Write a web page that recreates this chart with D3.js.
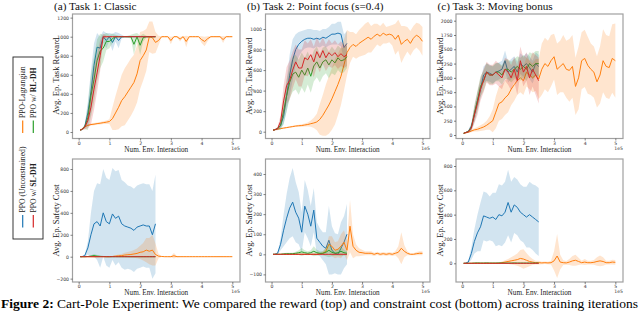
<!DOCTYPE html>
<html><head><meta charset="utf-8">
<script src="https://cdn.jsdelivr.net/npm/d3@7/dist/d3.min.js"></script>
<style>
html,body{margin:0;padding:0;background:#fff}svg{display:block}
.serif{font-family:"Liberation Serif","Times New Roman",Times,serif}
.sans{font-family:"DejaVu Sans",sans-serif}
</style>
</head><body>
<svg id="chart" width="640" height="316"></svg>
<script>
// ---------------- DATA ----------------
const xShort = [0.05,0.1,0.2,0.3,0.4,0.5,0.6,0.7,0.8,0.9,1.0,1.1,1.2,1.3,1.4,1.5,1.6,1.7,1.8,1.9,2.0,2.1,2.2,2.3,2.4,2.5];
const xLong = [0.05,0.1,0.2,0.3,0.4,0.5,0.6,0.7,0.8,0.9,1.0,1.1,1.2,1.3,1.4,1.5,1.6,1.7,1.8,1.9,2.0,2.1,2.2,2.3,2.4,2.5,
  2.6,2.7,2.8,2.9,3.0,3.1,3.2,3.3,3.4,3.5,3.6,3.7,3.8,3.9,4.0,4.1,4.2,4.3,4.4,4.5,4.6,4.7,4.8,4.9,5.0];
const xTicks = [0,1,2,3,4,5];
const seriesNames = ["PPO (Unconstrained)","PPO-Lagrangian","PPO w/ RL-DH","PPO w/ SL-DH"];
const titles = ["(a) Task 1: Classic","(b) Task 2: Point focus (s=0.4)","(c) Task 3: Moving bonus"];
const rewardTicks = [[0,200,400,600,800,1000,1200],[0,200,400,600,800,1000],[0,250,500,750,1000,1250,1500,1750,2000]];
const costTicks = [[-200,0,200,400,600,800],[-100,0,100,200,300,400],[0,200,400,600,800]];

// Task 1 reward
const blueRewA   = [20,25,60,200,420,700,890,880,1000,960,1000,940,1000,960,1000,1000,1000,1000,1000,1000,1000,1000,1000,1000,1000,1000];
const blueRewASd = [5,5,20,120,220,230,150,120,60,80,40,90,50,80,20,3,3,3,3,3,3,3,3,3,3,3];
const redRewA    = [20,25,50,120,260,450,620,800,1000,1000,1000,1000,1000,1000,1000,1000,1000,1000,1000,1000,1000,1000,1000,1000,1000,1000];
const redRewASd  = [5,5,20,80,180,220,200,160,30,10,5,5,5,5,5,5,5,5,5,5,5,5,5,5,5,5];
const greenRewA  = [20,25,55,150,380,550,750,850,880,950,950,980,1000,1000,1000,1000,1000,1000,920,1000,910,990,1000,1000,1000,1000];
const greenRewASd= [5,5,25,130,220,240,220,180,140,90,70,50,20,10,5,5,10,20,110,40,100,40,10,5,5,5];
const orangeRewA = [20,30,55,70,78,82,88,92,98,103,110,140,200,260,330,370,420,470,520,610,750,800,860,1000,990,940,960,1000,1000,1000,960,1000,1000,975,1000,950,1000,1000,1000,1000,970,950,980,1000,1000,1000,1000,970,1000,1000,1000];
const orangeRewASd=[5,5,8,10,10,12,12,14,15,18,25,120,180,230,270,300,300,300,290,300,300,260,220,160,170,110,50,5,5,5,40,5,5,25,5,60,5,5,5,5,35,50,25,5,5,5,5,35,5,5,5];

// Task 2 reward
const blueRewB   = [15,18,30,60,150,350,550,700,800,850,880,900,910,910,900,910,900,920,910,930,950,950,960,950,820,860];
const blueRewBSd = [5,5,10,30,80,150,200,200,150,120,100,90,90,90,90,80,80,80,90,90,100,100,110,120,130,120];
const redRewB    = [15,18,30,100,300,450,500,600,680,620,620,720,700,750,680,780,720,790,720,770,740,770,730,760,730,750];
const redRewBSd  = [5,5,15,60,150,180,190,180,170,180,180,170,160,150,150,140,140,130,130,130,120,120,120,120,110,110];
const greenRewB  = [15,18,30,60,200,350,480,560,580,530,600,550,620,540,640,680,620,680,700,650,700,670,720,690,700,730];
const greenRewBSd= [5,5,10,40,120,150,160,170,170,170,170,170,160,160,150,150,140,140,130,130,130,120,120,120,120,110];
const orangeRewB = [15,18,25,30,35,40,45,50,55,58,60,65,70,78,85,95,120,160,210,260,320,390,460,540,650,770,820,850,830,860,880,900,920,900,930,950,930,960,940,950,940,900,940,850,880,900,860,910,940,920,880];
const orangeRewBSd=[5,5,5,5,5,6,6,7,8,10,12,15,20,30,50,80,150,200,250,280,300,320,300,280,250,220,150,120,120,130,140,150,150,130,120,100,100,100,80,80,100,150,150,180,150,120,120,120,120,130,140];

// Task 3 reward
const blueRewC   = [30,40,60,150,350,600,800,1050,1100,1080,1050,1100,1120,1150,1300,1100,1150,1200,1100,1250,1200,1250,1180,1100,1250,1200];
const blueRewCSd = [10,10,20,60,120,150,150,150,150,150,150,150,150,150,180,180,180,180,180,180,180,180,200,200,200,200];
const redRewC    = [30,40,55,120,350,550,800,950,1100,1050,1050,1100,1050,1000,1150,1100,1000,1150,950,1300,1100,1200,1000,1150,1050,950];
const redRewCSd  = [10,10,20,60,150,200,200,200,180,180,180,200,200,200,200,220,220,220,250,250,250,250,300,300,350,400];
const greenRewC  = [30,40,60,130,380,600,850,950,1100,1050,1050,1100,1100,1050,1150,1150,1100,1150,1200,1150,1200,1150,1250,1200,1250,1250];
const greenRewCSd= [10,10,20,60,150,180,180,180,160,160,160,160,160,170,170,170,180,180,180,200,200,200,200,220,220,220];
const orangeRewC = [30,35,50,70,90,100,120,140,170,210,250,400,550,580,650,700,800,880,950,1000,950,1100,1050,1000,1050,980,1150,1250,1200,1300,1370,1150,1200,1250,1150,1130,1200,850,1000,1300,1340,1220,1150,1100,930,1050,1300,1200,1180,1340,1300];
const orangeRewCSd=[5,5,10,20,30,40,50,60,80,120,200,280,300,300,300,300,280,280,250,250,250,250,250,250,280,350,450,450,450,450,400,450,450,500,500,550,550,500,550,500,500,500,450,450,450,500,550,550,550,600,650];

// Task 1 cost
const blueCostA   = [0,0,10,80,200,300,320,280,400,320,300,390,350,370,300,280,270,260,240,270,280,290,280,280,200,300];
const blueCostASd = [0,0,10,60,200,300,350,380,400,400,400,420,430,420,400,400,380,380,380,380,380,380,380,380,400,450];
const redCostA    = [0,0,0,0,0,0,0,0,0,0,0,0,0,0,0,0,0,0,0,0,0,0,0,0,0,0];
const redCostASd  = [1,1,1,1,1,1,1,1,1,1,1,1,1,1,1,1,1,1,1,1,1,1,1,1,1,1];
const greenCostA  = [0,0,0,2,5,10,5,3,2,0,0,0,0,0,0,0,0,0,0,0,0,0,0,0,0,0];
const greenCostASd= [0,0,1,3,8,15,10,5,3,1,1,1,1,1,1,1,1,1,1,1,1,1,1,1,1,1];
const orangeCostA = [0,0,0,0,0,0,0,0,0,0,0,2,5,8,10,15,18,20,25,30,40,45,60,50,60,20,5,2,0,0,0,8,0,0,0,0,0,0,0,0,0,0,0,0,0,0,0,0,0,0,0];
const orangeCostASd=[1,1,1,1,1,1,1,1,1,1,1,5,8,12,15,20,25,30,35,45,60,80,110,120,140,100,20,5,2,2,5,25,5,2,2,2,2,2,2,2,2,2,2,2,2,2,2,2,2,2,2];

// Task 2 cost
const blueCostB   = [0,0,5,50,120,180,230,260,210,180,110,240,200,140,220,80,60,40,30,70,20,5,0,30,60,100];
const blueCostBSd = [0,0,5,30,80,120,150,170,150,130,100,130,120,100,110,80,70,70,80,170,120,100,100,130,130,150];
const redCostB    = [0,0,0,0,0,0,0,0,0,0,0,0,0,0,0,0,0,0,0,0,0,0,0,0,0,0];
const redCostBSd  = [1,1,1,1,1,1,1,1,1,1,1,1,1,1,1,1,1,1,1,1,1,1,1,1,1,1];
const greenCostB  = [0,0,0,0,2,3,3,3,5,8,12,8,5,8,15,8,5,5,10,20,10,5,8,15,8,5];
const greenCostBSd= [0,0,1,2,3,5,5,5,8,12,20,12,10,12,25,15,10,10,20,35,20,12,15,25,15,10];
const orangeCostB = [0,0,0,0,0,0,0,0,0,0,0,0,0,0,0,0,3,5,15,50,40,20,25,40,60,20,140,40,20,10,8,5,5,5,0,5,0,3,0,3,0,5,10,30,15,5,0,0,3,5,5];
const orangeCostBSd=[2,2,2,2,2,2,2,2,2,2,2,2,2,2,2,2,5,10,20,40,50,40,40,60,60,50,130,60,30,20,15,10,10,10,8,8,8,8,8,8,8,10,30,80,30,10,5,5,8,10,10];

// Task 3 cost
const blueCostC   = [0,0,10,80,180,250,300,390,380,370,380,360,400,390,420,500,420,480,460,420,400,380,400,380,360,340];
const blueCostCSd = [0,0,10,50,100,150,200,200,200,180,200,220,250,250,250,270,250,230,230,230,230,250,270,270,280,280];
const redCostC    = [0,0,0,0,0,0,0,0,0,0,0,0,0,0,0,0,0,0,0,0,0,0,0,0,0,0];
const redCostCSd  = [2,2,2,2,2,2,2,2,2,2,2,2,2,2,2,2,2,2,2,2,2,2,2,2,2,2];
const greenCostC  = [0,0,0,0,2,3,2,2,3,2,2,2,3,2,2,2,2,3,2,2,2,2,2,2,2,2];
const greenCostCSd= [1,1,1,2,3,4,3,3,4,3,3,3,4,3,3,3,3,4,3,3,3,3,3,3,3,3];
const orangeCostC = [0,0,0,0,0,0,0,0,0,0,0,0,0,5,10,15,20,25,30,40,35,25,15,10,5,5,3,5,3,5,20,60,10,5,3,10,20,25,15,5,10,5,5,8,15,20,15,5,5,10,8];
const orangeCostCSd=[2,2,2,2,2,2,2,2,2,2,2,2,2,10,15,20,30,40,50,70,80,60,40,25,15,15,10,10,10,15,80,180,60,20,15,25,40,45,30,15,25,15,15,20,35,45,35,15,15,20,20];

// ---------------- LAYOUT ----------------
const colors = {blue:"#1f77b4", orange:"#ff7f0e", green:"#2ca02c", red:"#d62728"};
const colX = [[72.5,240],[265.5,430],[456,623]];
const rowY = [[14,138.5],[159,282]];
const xlabelOffset = [13.5, 13];
const xtickPad = [0.8, 0.3];
const expOffset = [11.6, 11.2];
const rewardCal = [[[0,132],[1000,36.7]],[[0,131.7],[1000,29]],[[0,135],[2000,20.7]]];
const costCal = [[[0,256.7],[800,169]],[[0,254.3],[400,174]],[[0,263.3],[800,166]]];

const rewardSeries = [
  [[xShort,blueRewA,blueRewASd,"blue"],[xLong,orangeRewA,orangeRewASd,"orange"],[xShort,greenRewA,greenRewASd,"green"],[xShort,redRewA,redRewASd,"red"]],
  [[xShort,blueRewB,blueRewBSd,"blue"],[xLong,orangeRewB,orangeRewBSd,"orange"],[xShort,greenRewB,greenRewBSd,"green"],[xShort,redRewB,redRewBSd,"red"]],
  [[xShort,blueRewC,blueRewCSd,"blue"],[xLong,orangeRewC,orangeRewCSd,"orange"],[xShort,greenRewC,greenRewCSd,"green"],[xShort,redRewC,redRewCSd,"red"]]
];
const costSeries = [
  [[xShort,blueCostA,blueCostASd,"blue"],[xLong,orangeCostA,orangeCostASd,"orange"],[xShort,greenCostA,greenCostASd,"green"],[xShort,redCostA,redCostASd,"red"]],
  [[xShort,blueCostB,blueCostBSd,"blue"],[xLong,orangeCostB,orangeCostBSd,"orange"],[xShort,greenCostB,greenCostBSd,"green"],[xShort,redCostB,redCostBSd,"red"]],
  [[xShort,blueCostC,blueCostCSd,"blue"],[xLong,orangeCostC,orangeCostCSd,"orange"],[xShort,greenCostC,greenCostCSd,"green"],[xShort,redCostC,redCostCSd,"red"]]
];

const svg = d3.select("#chart");

function drawPanel(col, row, series, ticks, cal, ylabel, id) {
  const [x0,x1] = colX[col], [y0,y1] = rowY[row];
  const x = d3.scaleLinear().domain([-0.2,5.25]).range([x0,x1]);
  const y = d3.scaleLinear().domain([cal[0][0],cal[1][0]]).range([cal[0][1],cal[1][1]]);
  svg.append("clipPath").attr("id",id).append("rect").attr("x",x0).attr("y",y0).attr("width",x1-x0).attr("height",y1-y0);
  const g = svg.append("g").attr("clip-path",`url(#${id})`);
  series.forEach(([xs,m,sd,c]) => {
    const pts = xs.map((xv,i)=>({x:xv,m:m[i],s:sd[i]}));
    g.append("path").datum(pts)
      .attr("d", d3.area().x(d=>x(d.x)).y0(d=>y(d.m-d.s)).y1(d=>y(d.m+d.s)))
      .attr("fill", colors[c]).attr("fill-opacity",0.2).attr("stroke","none");
    g.append("path").datum(pts)
      .attr("d", d3.line().x(d=>x(d.x)).y(d=>y(d.m)))
      .attr("fill","none").attr("stroke",colors[c]).attr("stroke-width",1);
  });
  svg.append("rect").attr("x",x0).attr("y",y0).attr("width",x1-x0).attr("height",y1-y0)
    .attr("fill","none").attr("stroke","#a0a0a0").attr("stroke-width",1.2);
  const xa = svg.append("g").attr("transform",`translate(0,${y1})`)
    .call(d3.axisBottom(x).tickValues(xTicks).tickSize(2).tickPadding(xtickPad[row]).tickFormat(d3.format("d")));
  const ya = svg.append("g").attr("transform",`translate(${x0},0)`)
    .call(d3.axisLeft(y).tickValues(ticks).tickSize(2).tickPadding(1.5).tickFormat(d3.format("d")));
  [xa,ya].forEach(a=>{
    a.attr("font-family",null).attr("font-size",null);
    a.select(".domain").remove();
    a.selectAll("line").attr("stroke","#333").attr("stroke-width",0.6);
    a.selectAll("text").attr("class","sans").style("font-size","4.6px").attr("fill","#333");
  });
  svg.append("text").attr("class","sans").attr("x",x1).attr("y",y1+expOffset[row]).attr("text-anchor","end")
    .style("font-size","4.6px").attr("fill","#333").text("1e5");
  svg.append("text").attr("class","serif").attr("x",(x0+x1)/2).attr("y",y1+xlabelOffset[row]).attr("text-anchor","middle")
    .style("font-size","7.2px").attr("fill","#222").text("Num. Env. Interaction");
  svg.append("text").attr("class","serif").attr("transform",`translate(${x0-16.5},${(y0+y1)/2}) rotate(-90)`)
    .attr("text-anchor","middle").attr("dominant-baseline","central")
    .style("font-size","8.6px").attr("fill","#222").text(ylabel);
}

for (let c=0;c<3;c++){
  drawPanel(c,0,rewardSeries[c],rewardTicks[c],rewardCal[c],"Avg. Ep. Task Reward","cr"+c);
  drawPanel(c,1,costSeries[c],costTicks[c],costCal[c],"Avg. Ep. Safety Cost","cc"+c);
  svg.append("text").attr("class","serif").attr("x",colX[c][0]-18.5).attr("y",9.5)
    .style("font-size","11.2px").attr("fill","#111").text(titles[c]);
}

// legend (rotated)
const lg = svg.append("g").attr("transform","translate(13,239) rotate(-90)");
lg.append("rect").attr("x",0).attr("y",0).attr("width",182).attr("height",30)
  .attr("fill","#fff").attr("stroke","#222").attr("stroke-width",0.9);
const legendItems = [
  {c:"blue", u:11.5, v:9.7, name:seriesNames[0]},
  {c:"orange", u:106, v:9.7, name:seriesNames[1]},
  {c:"red", u:11.5, v:20.3, name:seriesNames[3]},
  {c:"green", u:106, v:20.3, name:seriesNames[2]}
];
legendItems.forEach(it=>{
  lg.append("line").attr("x1",it.u).attr("x2",it.u+12.5).attr("y1",it.v).attr("y2",it.v)
    .attr("stroke",colors[it.c]).attr("stroke-width",1.2);
  const t = lg.append("text").attr("class","serif").attr("x",it.u+15).attr("y",it.v).attr("dominant-baseline","central")
    .style("font-size","7.7px").attr("fill","#222");
  const m = it.name.match(/^(PPO w\/ )(.*)$/);
  if (m) { t.append("tspan").text(m[1]); t.append("tspan").attr("font-weight","bold").text(m[2]); }
  else t.text(it.name);
});

// caption
const cap = svg.append("text").attr("class","serif").attr("x",1).attr("y",308.2)
  .style("font-size","12.2px").attr("fill","#000")
  .attr("textLength",637).attr("lengthAdjust","spacingAndGlyphs");
cap.append("tspan").attr("font-weight","bold").text("Figure 2:");
cap.append("tspan").text(" Cart-Pole Experiment: We compared the reward (top) and constraint cost (bottom) across training iterations");
</script>
</body></html>
